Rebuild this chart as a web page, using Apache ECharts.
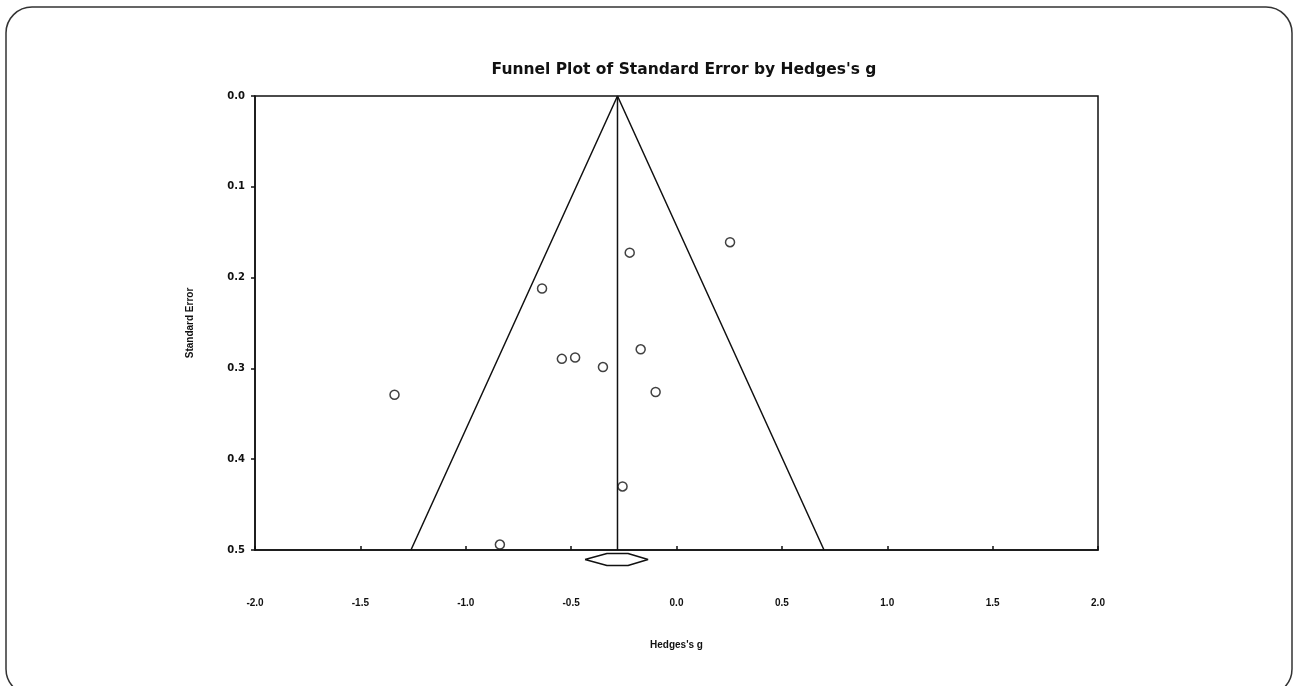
<!DOCTYPE html>
<html>
<head>
<meta charset="utf-8">
<style>
  html, body { margin: 0; padding: 0; background: #ffffff; }
  #chart { width: 1293px; height: 686px; }
</style>
<script src="https://cdn.jsdelivr.net/npm/echarts@6/dist/echarts.min.js"></script>
</head>
<body>
<div id="chart"></div>
<script>
// ---- data ----
const studyG  = [-1.338, -0.638, -0.544, -0.481, -0.349, -0.256, -0.222, -0.170, -0.099, 0.254, -0.838];
const studySE = [0.329, 0.212, 0.2895, 0.288, 0.2985, 0.430, 0.1725, 0.279, 0.326, 0.161, 0.494];
const meanEffect = -0.28;
const funnelX = [-1.26, -0.28, 0.70];
const funnelY = [0.5, 0.0, 0.5];
const meanLineX = [-0.28, -0.28];
const meanLineY = [0.0, 0.5];
const diamondX = [-0.434, -0.330, -0.230, -0.135, -0.230, -0.330, -0.434];
const diamondY = [0.5105, 0.5039, 0.5039, 0.5105, 0.5171, 0.5171, 0.5105];
const xTicks = [-2.0, -1.5, -1.0, -0.5, 0.0, 0.5, 1.0, 1.5, 2.0];
const yTicks = [0.0, 0.1, 0.2, 0.3, 0.4, 0.5];

const zip = (a, b) => a.map((v, i) => [v, b[i]]);

const chart = echarts.init(document.getElementById('chart'));
chart.setOption({
  animation: false,
  backgroundColor: '#ffffff',
  title: {
    text: "Funnel Plot of Standard Error by Hedges's g",
    left: 679, top: 57, textAlign: 'center',
    textStyle: { fontFamily: 'DejaVu Sans', fontWeight: 'bold', fontSize: 15.5, color: '#111' }
  },
  graphic: [{
    type: 'rect', silent: true, z: -1,
    shape: { x: 6, y: 7, width: 1286, height: 688, r: 26 },
    style: { fill: 'none', stroke: '#333', lineWidth: 1.5 }
  }],
  grid: {
    left: 255, top: 96, right: 195, bottom: 136,
    show: true, borderColor: '#111', borderWidth: 1.5, backgroundColor: 'transparent'
  },
  xAxis: {
    type: 'value', position: 'bottom', min: xTicks[0], max: xTicks[xTicks.length - 1], interval: 0.5,
    name: "Hedges's g", nameLocation: 'middle', nameGap: 90,
    nameTextStyle: { fontFamily: 'Liberation Sans', fontWeight: 'bold', fontSize: 10, color: '#111' },
    axisLine: { show: true, onZero: false, lineStyle: { color: '#111', width: 1.5 } },
    axisTick: { show: true, inside: true, length: 4, lineStyle: { color: '#111', width: 1.5 } },
    axisLabel: {
      margin: 48, fontFamily: 'Liberation Sans', fontWeight: 'bold', fontSize: 10, color: '#111',
      formatter: v => v.toFixed(1)
    },
    splitLine: { show: false }
  },
  yAxis: {
    type: 'value', position: 'left', inverse: true, min: yTicks[0], max: yTicks[yTicks.length - 1], interval: 0.1,
    name: 'Standard Error', nameLocation: 'middle', nameGap: 60,
    nameTextStyle: { fontFamily: 'Liberation Sans', fontWeight: 'bold', fontSize: 10, color: '#111' },
    axisLine: { show: true, onZero: false, lineStyle: { color: '#111', width: 1.5 } },
    axisTick: { show: true, length: 4, lineStyle: { color: '#111', width: 1.5 } },
    axisLabel: {
      margin: 10, fontFamily: 'DejaVu Sans', fontWeight: 'bold', fontSize: 10, color: '#111',
      formatter: v => v.toFixed(1)
    },
    splitLine: { show: false }
  },
  series: [
    {
      type: 'line', data: zip(funnelX, funnelY), symbol: 'none', silent: true,
      lineStyle: { color: '#111', width: 1.5 }
    },
    {
      type: 'line', data: zip(meanLineX, meanLineY), symbol: 'none', silent: true,
      lineStyle: { color: '#111', width: 1.5 }
    },
    {
      type: 'line', data: zip(diamondX, diamondY), symbol: 'none', silent: true, clip: false,
      lineStyle: { color: '#111', width: 1.5 }
    },
    {
      type: 'scatter', data: zip(studyG, studySE), symbol: 'circle', symbolSize: 9,
      itemStyle: { color: '#fff', borderColor: '#111', borderWidth: 1.5 }, z: 5
    }
  ]
});
</script>
</body>
</html>
